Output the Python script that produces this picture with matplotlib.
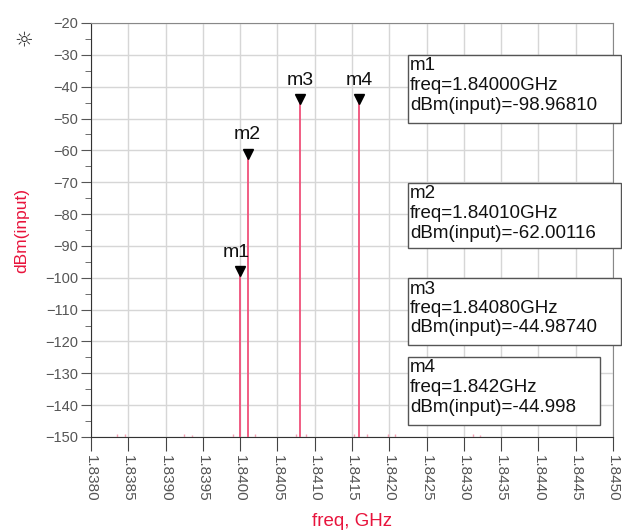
import matplotlib
matplotlib.use("Agg")
import matplotlib.pyplot as plt
from matplotlib.patches import Rectangle
from matplotlib.ticker import MultipleLocator

# ---- data ----
marker_names = ["m1", "m2", "m3", "m4"]
marker_freq = [1.84000, 1.84010, 1.84080, 1.84160]   # GHz
marker_level = [-98.96810, -62.00116, -44.98740, -44.998]  # dBm
marker_freq_text = ["1.84000GHz", "1.84010GHz", "1.84080GHz", "1.842GHz"]
marker_level_text = ["-98.96810", "-62.00116", "-44.98740", "-44.998"]

spur_freq = [1.83835, 1.83845, 1.83925, 1.83935, 1.83990, 1.84020,
             1.84075, 1.84088, 1.84153, 1.84170, 1.84198, 1.84208,
             1.84312, 1.84322]
spur_level = [-149.0, -149.2, -149.0, -149.3, -149.0, -149.2,
              -149.1, -149.0, -149.2, -149.0, -149.0, -149.2,
              -149.1, -149.3]

x_ticks = [1.8380, 1.8385, 1.8390, 1.8395, 1.8400, 1.8405, 1.8410, 1.8415,
           1.8420, 1.8425, 1.8430, 1.8435, 1.8440, 1.8445, 1.8450]
y_min, y_max = -150, -20
floor = -150

W, H = 622, 531
fig = plt.figure(figsize=(W / 100, H / 100), dpi=100)
plt.rcParams['font.family'] = ['Liberation Sans', 'DejaVu Sans']

def fx(px):
    return px / W

def fy(py):
    return 1 - py / H

ax = fig.add_axes([fx(91), fy(437), (613 - 91) / W, (437 - 23) / H])
ax.set_xlim(x_ticks[0], x_ticks[-1])
ax.set_ylim(y_min, y_max)

line_col = "#f0507a"
ax.vlines(spur_freq, floor, spur_level, color="#f5a0b5", lw=1.0, zorder=2)
ax.vlines(marker_freq, floor, marker_level, color=line_col, lw=1.3, zorder=3)

# marker triangles and labels
for name, f, lv in zip(marker_names, marker_freq, marker_level):
    ax.plot([f], [lv + 1.0], marker="v", color="black", markersize=7, zorder=4,
            clip_on=False)
    ax.annotate(name, (f, lv), xytext=(-3 if name == "m1" else 0, 10),
                textcoords="offset points", ha="center", va="bottom",
                fontsize=14, color="#111111")

ax.set_xticks(x_ticks)
ax.set_xticklabels([f"{t:.4f}" for t in x_ticks], rotation=-90,
                   fontsize=11, color="#555555")
ax.yaxis.set_major_locator(MultipleLocator(10))
ax.yaxis.set_minor_locator(MultipleLocator(5))
ax.tick_params(axis="y", which="major", length=7, color="#555555",
               labelsize=10.5, labelcolor="#555555", pad=2)
ax.tick_params(axis="y", which="minor", length=4, color="#555555")
ax.tick_params(axis="x", which="major", length=10, color="#444444", pad=3)

ax.grid(True, which="major", color="#d6d6d6", lw=1.0)
ax.set_axisbelow(True)
for s in ["left", "bottom"]:
    ax.spines[s].set_color("#333333")
for s in ["top", "right"]:
    ax.spines[s].set_color("#888888")

fig.text(fx(352), fy(521), "freq, GHz", color="#e8143c", fontsize=13.5,
         ha="center", va="center")
fig.text(fx(22), fy(230), "dBm(input)", color="#e8143c", fontsize=12.5,
         ha="center", va="center", rotation=90)
fig.text(fx(24), fy(40), "\u263C", fontsize=15, color="#333333",
         ha="center", va="center", family=["DejaVu Sans"])

# marker readout boxes (pixel layout)
boxes = [(408, 621, 55, 123), (408, 621, 183, 248),
         (408, 621, 278, 345), (408, 600, 357, 425)]
for (x0, x1, y0, y1), name, ft, lt in zip(boxes, marker_names,
                                           marker_freq_text, marker_level_text):
    fig.patches.append(Rectangle((fx(x0), fy(y1)), (x1 - x0) / W, (y1 - y0) / H,
                                 transform=fig.transFigure, facecolor="white",
                                 edgecolor="#555555", lw=1.0, zorder=5))
    lines = [name, "freq=" + ft, "dBm(input)=" + lt]
    for i, t in enumerate(lines):
        fig.text(fx(x0 + 2), fy(y0 + 11 + 19.5 * i), t, fontsize=13.5,
                 color="#111111", ha="left", va="center", zorder=6)

fig.savefig("out.png", dpi=100)
